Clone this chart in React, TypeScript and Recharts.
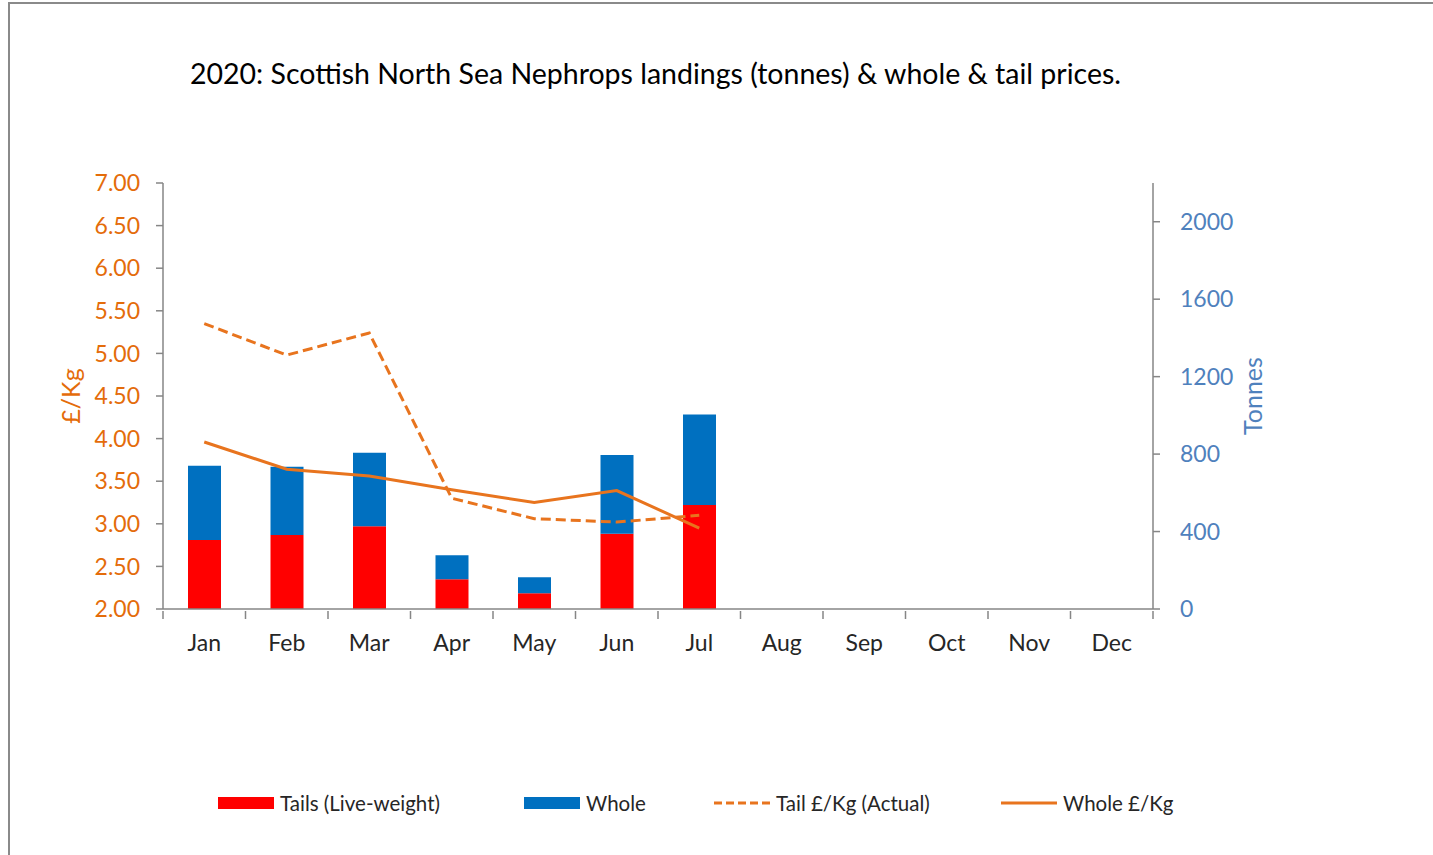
import React from "react";
import {
  ComposedChart,
  Bar,
  Line,
  XAxis,
  YAxis,
  Label,
} from "recharts";

const months = ["Jan", "Feb", "Mar", "Apr", "May", "Jun", "Jul", "Aug", "Sep", "Oct", "Nov", "Dec"];
const tailsTonnes = [356, 382, 427, 153, 81, 389, 537, null, null, null, null, null];
const wholeTonnes = [384, 353, 380, 124, 83, 406, 468, null, null, null, null, null];
const tailPrice = [5.35, 4.98, 5.24, 3.3, 3.06, 3.02, 3.1, null, null, null, null, null];
const wholePrice = [3.96, 3.64, 3.56, 3.4, 3.25, 3.39, 2.95, null, null, null, null, null];
const priceTicks = [2, 2.5, 3, 3.5, 4, 4.5, 5, 5.5, 6, 6.5, 7];
const tonneTicks = [0, 400, 800, 1200, 1600, 2000];

const data = months.map((m, i) => ({
  month: m,
  tails: tailsTonnes[i],
  whole: wholeTonnes[i],
  tailPrice: tailPrice[i],
  wholePrice: wholePrice[i],
}));

const FONT = "Lato, 'Open Sans', sans-serif";
const ORANGE = "#E8741E";
const ORANGE_TEXT = "#E46C0A";
const BLUE_TEXT = "#4F81BD";
const AXIS = "#868686";
const RED = "#FF0000";
const BLUE = "#0070C0";

const W = 1433;
const H = 855;
const LEFT_W = 163;
const RIGHT_W = 200;
const MARGIN = { top: 183, right: 80, bottom: 186, left: 0 };
const bandW = (W - MARGIN.left - MARGIN.right - LEFT_W - RIGHT_W) / months.length;

const MonthTick = (props: any) => {
  const { x, y, payload, index } = props;
  return (
    <g>
      <line x1={x - bandW / 2} y1={y} x2={x - bandW / 2} y2={y + 8} stroke={AXIS} strokeWidth={1.5} />
      {index === months.length - 1 && (
        <line x1={x + bandW / 2} y1={y} x2={x + bandW / 2} y2={y + 8} stroke={AXIS} strokeWidth={1.5} />
      )}
      <text x={x} y={y + 40} textAnchor="middle" fill="#262626" fontSize={23} fontFamily={FONT}>
        {payload.value}
      </text>
    </g>
  );
};

const legendItems = [
  { label: "Tails (Live-weight)", kind: "bar", color: RED, left: 218 },
  { label: "Whole", kind: "bar", color: BLUE, left: 524 },
  { label: "Tail £/Kg (Actual)", kind: "dash", color: ORANGE, left: 714 },
  { label: "Whole £/Kg", kind: "line", color: ORANGE, left: 1001 },
];

export default function App() {
  return (
    <div style={{ position: "relative", width: W, height: H, overflow: "hidden", fontFamily: FONT }}>
      <style>{"body{margin:0;overflow:hidden;}"}</style>
      <div
        style={{
          position: "absolute",
          left: 8,
          top: 2,
          width: W + 20,
          height: H + 20,
          border: "2px solid #8a8a8a",
        }}
      />
      <div
        style={{
          position: "absolute",
          top: 56,
          left: 0,
          width: 1311,
          textAlign: "center",
          fontSize: 28.5,
          color: "#000",
          whiteSpace: "nowrap",
        }}
      >
        2020: Scottish North Sea Nephrops landings (tonnes) &amp; whole &amp; tail prices.
      </div>
      <div style={{ position: "absolute", left: 0, top: 0 }}>
        <ComposedChart width={W} height={H} data={data} margin={MARGIN}>
          <XAxis
            dataKey="month"
            yAxisId="price"
            stroke={AXIS}
            strokeWidth={1.5}
            tickLine={false}
            tickSize={0}
            tick={<MonthTick />}
            interval={0}
            height={60}
          />
          <YAxis
            yAxisId="price"
            orientation="left"
            width={LEFT_W}
            domain={[2, 7]}
            ticks={priceTicks}
            allowDataOverflow
            tickFormatter={(v: number) => v.toFixed(2)}
            stroke={AXIS}
            strokeWidth={1.5}
            tickSize={7}
            tickMargin={16}
            tick={{ fill: ORANGE_TEXT, fontSize: 23, fontFamily: FONT }}
          >
            <Label
              value="£/Kg"
              angle={-90}
              position="center"
              dx={-10}
              fill={ORANGE_TEXT}
              fontSize={25}
              fontFamily={FONT}
            />
          </YAxis>
          <YAxis
            yAxisId="tonnes"
            orientation="right"
            width={RIGHT_W}
            domain={[0, 2200]}
            ticks={tonneTicks}
            allowDataOverflow
            stroke={AXIS}
            strokeWidth={1.5}
            tickSize={7}
            tickMargin={20}
            tick={{ fill: BLUE_TEXT, fontSize: 23, fontFamily: FONT, textAnchor: "start" }}
          >
            <Label
              value="Tonnes"
              angle={-90}
              position="center"
              dx={0}
              fill={BLUE_TEXT}
              fontSize={25}
              fontFamily={FONT}
            />
          </YAxis>
          <Bar dataKey="tails" yAxisId="tonnes" stackId="t" fill={RED} barSize={33} isAnimationActive={false} />
          <Bar dataKey="whole" yAxisId="tonnes" stackId="t" fill={BLUE} barSize={33} isAnimationActive={false} />
          <Line
            dataKey="tailPrice"
            yAxisId="price"
            stroke={ORANGE}
            strokeWidth={3}
            strokeDasharray="10 5"
            dot={false}
            activeDot={false}
            isAnimationActive={false}
          />
          <Line
            dataKey="wholePrice"
            yAxisId="price"
            stroke={ORANGE}
            strokeWidth={3}
            dot={false}
            activeDot={false}
            isAnimationActive={false}
          />
        </ComposedChart>
      </div>
      {legendItems.map((it) => (
        <div
          key={it.label}
          style={{
            position: "absolute",
            left: it.left,
            top: 790,
            height: 26,
            display: "flex",
            alignItems: "center",
            fontSize: 20.5,
            color: "#262626",
            whiteSpace: "nowrap",
          }}
        >
          <svg width={56} height={14} style={{ marginRight: 6 }}>
            {it.kind === "bar" ? (
              <rect x={0} y={1} width={56} height={12} fill={it.color} />
            ) : (
              <line
                x1={0}
                y1={7}
                x2={56}
                y2={7}
                stroke={it.color}
                strokeWidth={3}
                strokeDasharray={it.kind === "dash" ? "8 4" : undefined}
              />
            )}
          </svg>
          {it.label}
        </div>
      ))}
    </div>
  );
}
